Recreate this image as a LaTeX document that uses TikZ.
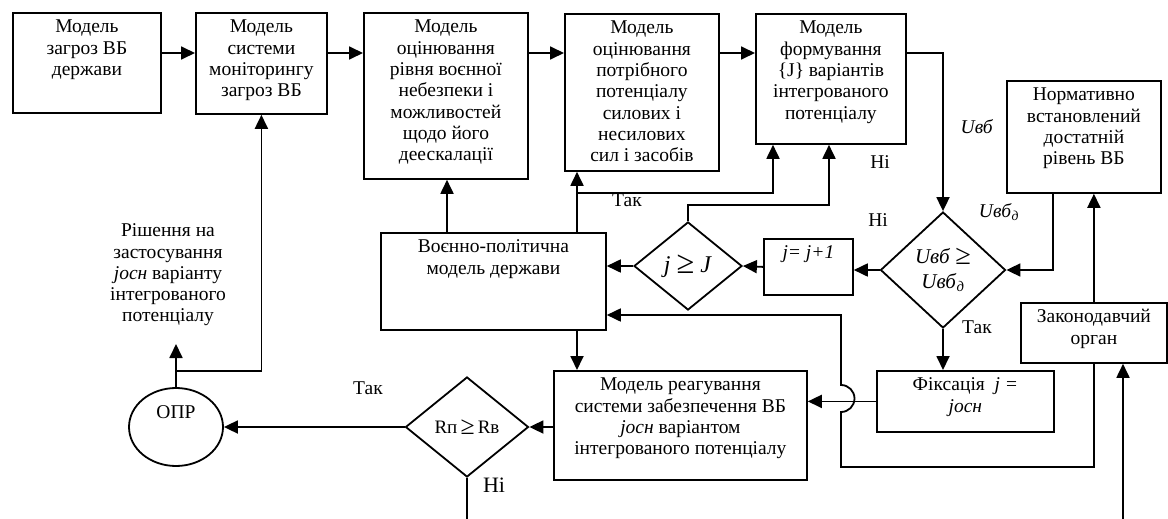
\documentclass[tikz,border=0pt]{standalone}
\usepackage{fontspec}
\setmainfont{Liberation Serif}
\usetikzlibrary{shapes.geometric}
\usetikzlibrary{arrows.meta}
\tikzset{blk/.style={draw, anchor=north west, inner xsep=2pt, inner ysep=5pt}}
\tikzset{cond/.style={draw, shape=diamond, inner sep=0pt, align=center}}
\tikzset{arr/.style={-{Triangle[length=14pt,width=13pt]}}}
\tikzset{lbl/.style={inner sep=1pt}}
\newcommand{\blktext}[3]{\parbox[c][#2][t]{#1}{\centering\strut #3}}
\newcommand{\bigge}{\raisebox{-1pt}{\scalebox{1.35}{≥}}}

\begin{document}
\begin{tikzpicture}[x=1pt, y=-1pt, line width=1.8pt]
	% Default action for each node
	\tikzstyle{every node}=[font=\fontsize{19.5}{21.3}\selectfont];
	\useasboundingbox (0,0) rectangle (1168,519);

	% Top row
	\node[blk] (zagroz) at (12,12)   {\blktext{144pt}{90pt}{Модель\\загроз ВБ\\держави}};
	\node[blk] (monit)  at (195,12)  {\blktext{127pt}{91pt}{Модель\\системи\\моніторингу\\загроз ВБ}};
	\node[blk] (otsin)  at (363,12)  {\blktext{160pt}{156pt}{Модель\\оцінювання\\рівня воєнної\\небезпеки і\\можливостей\\щодо його\\деескалації}};
	\node[blk] (potreb) at (564,13)  {\blktext{150pt}{147pt}{Модель\\оцінювання\\потрібного\\потенціалу\\силових і\\несилових\\сил і засобів}};
	\node[blk] (form)   at (755,13)  {\blktext{146pt}{120pt}{Модель\\формування\\\{J\} варіантів\\інтегрованого\\потенціалу}};
	\node[blk] (norm)   at (1006,80) {\blktext{150pt}{102pt}{Нормативно\\встановлений\\достатній\\рівень ВБ}};

	% Middle row
	\node[blk] (vpol)   at (380,232) {\blktext{221pt}{87pt}{Воєнно-політична\\модель держави}};
	\node[blk] (jinc)   at (763,238) {\blktext{85pt}{46pt}{\textit{j= j+1}}};
	\node[cond, minimum width=108pt, minimum height=88pt, font=\fontsize{24}{26}\selectfont] (cmpJ) at (688,266) {\textit{j} \bigge\ \textit{J}};
	\node[cond, minimum width=125pt, minimum height=116pt, font=\fontsize{21}{25}\selectfont] (cmpU) at (943,270) {\textit{Uвб} \bigge\\\textit{Uвб}\textsubscript{\textit{д}}};
	\node[blk] (zakon)  at (1020,302) {\blktext{142pt}{50pt}{Законодавчий\\орган}};

	% Bottom row
	\node[blk] (reag)   at (553,370) {\blktext{249pt}{99pt}{Модель реагування\\системи забезпечення ВБ\\\textit{jосн} варіантом\\інтегрованого потенціалу}};
	\node[blk] (fiks)   at (876,370) {\blktext{173pt}{51pt}{Фіксація \ \textit{j =}\\\textit{jосн}}};
	\node[cond, minimum width=123pt, minimum height=100pt, font=\fontsize{19}{21}\selectfont] (cmpR) at (467,427) {Rп\,\bigge\,Rв};
	\node[draw, shape=ellipse, minimum width=94pt, minimum height=78pt] (opr) at (176,427) {\raisebox{9pt}[0pt][0pt]{ОПР}};
	\node[align=center] (rishen) at (168,275) {Рішення на\\застосування\\\textit{jосн} варіанту\\інтегрованого\\потенціалу};

	% Labels
	\node[lbl] (lUvb)   at (977,127) {\textit{Uвб}};
	\node[lbl] (lUvbd)  at (999,212) {\textit{Uвб}\textsubscript{\textit{д}}};
	\node[lbl] (lno1)   at (880,162) {Ні};
	\node[lbl] (lno2)   at (878,220) {Ні};
	\node[lbl] (lyes1)  at (627,200) {Так};
	\node[lbl] (lyes3)  at (368,388) {Так};

	% Coordinates
	\coordinate (row) at (0,53);
	\coordinate (norm out) at (1053,0);
	\coordinate (zakon in) at (1123,519);
	\coordinate (loop bot) at (841,467);
	\coordinate (jump bot) at (841,412);
	\coordinate (loop top) at (841,315);
	\coordinate (no turn) at (829,205);
	\coordinate (yes up) at (577,193);
	\coordinate (yes turn) at (773,193);
	\coordinate (vpol up) at (447,0);
	\coordinate (no end) at (467,519);
	\coordinate (dec in) at (176,344);
	\coordinate (opr up) at (176,371);

	% Top row arrows
	\draw[arr] (zagroz.east |- row) -- (monit.west |- row);
	\draw[arr] (monit.east |- row) -- (otsin.west |- row);
	\draw[arr] (otsin.east |- row) -- (potreb.west |- row);
	\draw[arr] (potreb.east |- row) -- (form.west |- row);
	\draw[arr] (form.east |- row) -| (cmpU.north);

	% Norm level and legislature
	\draw[arr] (norm.south -| norm out) |- (cmpU.east);
	\draw[arr] (zakon.north) -- (zakon.north |- norm.south);
	\draw[arr] (zakon in) -- (zakon in |- zakon.south);
	\draw[arr] (zakon.south) |- (loop bot) -- (jump bot) arc[start angle=-90, end angle=90, radius=13.5pt] -- (loop top) -- (vpol.east |- loop top);

	% Comparison chain
	\draw[arr] (cmpU.south) -- (cmpU.south |- fiks.north);
	\draw[arr] (cmpU.west) -- (jinc.east |- cmpU.west);
	\draw[arr] (jinc.west) -- (cmpJ.east);
	\draw[arr] (cmpJ.west) -- (vpol.east |- cmpJ.west);
	\draw[arr] (cmpJ.north) |- (no turn) -- (no turn |- form.south);
	\draw[arr] (fiks.west) -- (reag.east |- fiks.west);

	% Verticals from politics model
	\draw[arr] (yes up |- vpol.north) -- (yes up |- potreb.south);
	\draw[arr] (yes up) -- (yes turn) -- (yes turn |- form.south);
	\draw[arr] (vpol up |- vpol.north) -- (vpol up |- otsin.south);
	\draw[arr] (yes up |- vpol.south) -- (yes up |- reag.north);

	% Bottom row arrows
	\draw[arr] (reag.west |- cmpR.east) -- (cmpR.east);
	\draw[arr] (cmpR.west) -- (opr.east);
	\draw (cmpR.south) -- (no end);
	\draw[arr] (opr.north) -- (dec in);
	\draw[arr] (opr up) -| (monit.south);

	% Labels over lines
	\node[lbl, fill=white, inner sep=3pt] (lyes2) at (977,327) {Так};
	\node[lbl, fill=white, inner sep=2pt, font=\fontsize{22}{24}\selectfont] (lno3) at (494,485) {Ні};

\end{tikzpicture}
\end{document}
